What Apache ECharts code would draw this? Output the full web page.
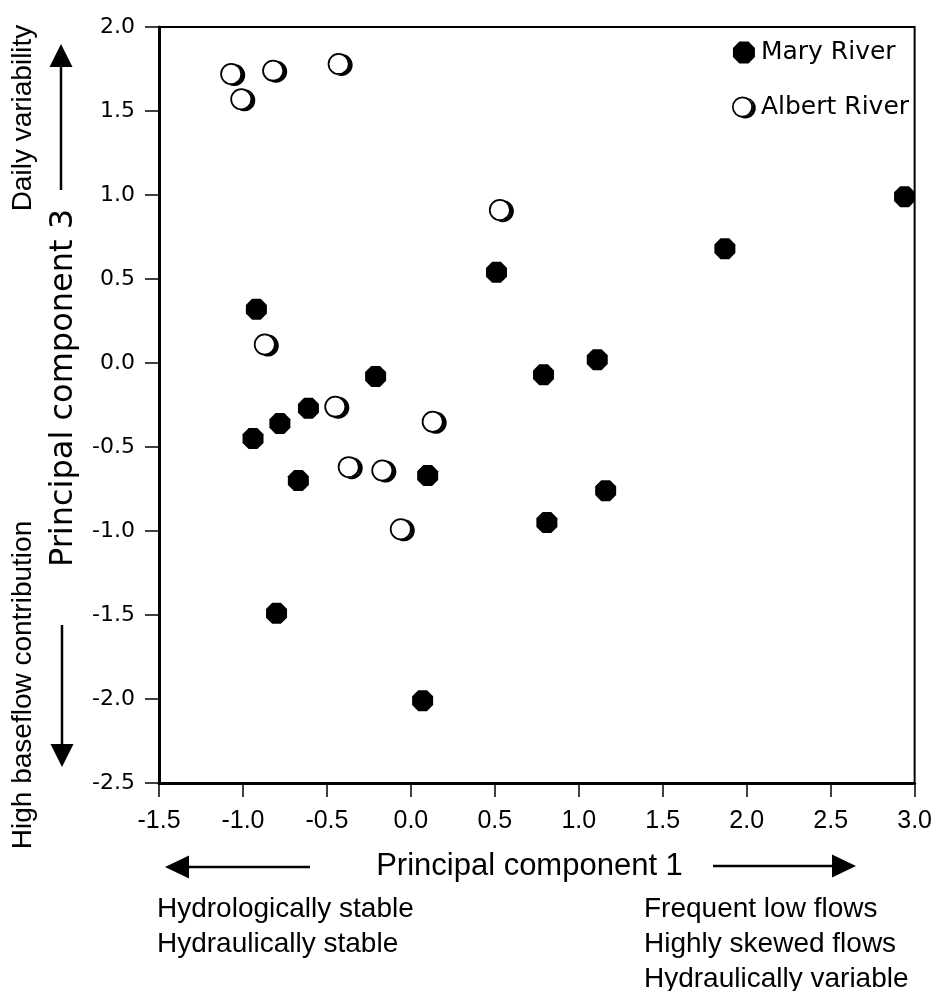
<!DOCTYPE html>
<html><head><meta charset="utf-8">
<script src="https://cdn.jsdelivr.net/npm/echarts@6/dist/echarts.min.js"></script>
<style>html,body{margin:0;padding:0;background:#fff}#c{width:935px;height:991px}</style>
</head><body><div id="c"></div><script>
// ---- data ----
const seriesNames = ['Mary River', 'Albert River'];
const maryX   = [2.94, 1.87, 0.51, 1.11, 0.79, -0.92, -0.21, -0.61, -0.78, -0.94, -0.67, 0.10, 1.16, 0.81, -0.80, 0.07];
const maryY   = [0.99, 0.68, 0.54, 0.02, -0.07, 0.32, -0.08, -0.27, -0.36, -0.45, -0.70, -0.67, -0.76, -0.95, -1.49, -2.01];
const albertX = [-1.07, -0.82, -0.43, -1.01, 0.53, -0.87, -0.45, 0.13, -0.37, -0.17, -0.06];
const albertY = [1.72, 1.74, 1.78, 1.57, 0.91, 0.11, -0.26, -0.35, -0.62, -0.64, -0.99];
const xRange = [-1.5, 3.0];
const yRange = [-2.5, 2.0];
const tickStep = 0.5;
const xTitle = 'Principal component 1';
const yTitle = 'Principal component 3';
const yTopNote = 'Daily variability';
const yBottomNote = 'High baseflow contribution';
const xLeftNotes = ['Hydrologically stable', 'Hydraulically stable'];
const xRightNotes = ['Frequent low flows', 'Highly skewed flows', 'Hydraulically variable'];

const zip = (a, b) => a.map((v, i) => [v, b[i]]);
const octagon = 'path://M-0.414,-1L0.414,-1L1,-0.414L1,0.414L0.414,1L-0.414,1L-1,0.414L-1,-0.414Z';
// open ring with a dark crescent "shadow" at lower right
const ringShadow = 'path://M1,0A1,1,0,1,1,-1,0A1,1,0,1,1,1,0Z' +
  'M0.84,0A0.84,0.84,0,1,0,-0.84,0A0.84,0.84,0,1,0,0.84,0Z' +
  'M0.4727,-0.8813A1,1,0,1,1,-0.1927,0.9813A1,1,0,0,0,0.4727,-0.8813Z';
const SANS = 'Liberation Sans, Arial, sans-serif';
const WIDE = 'DejaVu Sans, sans-serif';

function txt(text, x, y, opts) {
  opts = opts || {};
  return {
    type: 'text', x: x, y: y, rotation: opts.rot || 0, silent: true,
    style: {
      text: text, x: 0, y: 0,
      align: opts.align || 'center', textAlign: opts.align || 'center',
      verticalAlign: 'middle', textVerticalAlign: 'middle',
      font: (opts.size || 28) + 'px ' + (opts.family || SANS),
      fill: '#000'
    }
  };
}
function line(x1, y1, x2, y2) {
  return { type: 'line', silent: true, shape: { x1, y1, x2, y2 }, style: { stroke: '#000', lineWidth: 2.5 } };
}
function head(pts) {
  return { type: 'polygon', silent: true, shape: { points: pts }, style: { fill: '#000' } };
}

const chart = echarts.init(document.getElementById('c'), null, { renderer: 'canvas' });
const fmt = v => Number(v).toFixed(1);

const graphics = [
  txt(yTitle, 64, 388, { rot: Math.PI / 2, size: 32, family: WIDE }),
  txt(xTitle, 529.5, 866, { size: 31 }),
  txt(yTopNote, 23, 118, { rot: Math.PI / 2, size: 28 }),
  txt(yBottomNote, 23, 685, { rot: Math.PI / 2, size: 28 }),
  // arrows
  line(61, 190, 61, 66), head([[61, 44], [49.5, 67], [72.5, 67]]),
  line(62, 625, 62, 745), head([[62, 767], [50.5, 744], [73.5, 744]]),
  line(189, 867, 310, 867), head([[165, 867], [189, 855.5], [189, 878.5]]),
  line(713, 866, 833, 866), head([[856, 866], [832, 854.5], [832, 877.5]])
];
xLeftNotes.forEach((t, i) => graphics.push(txt(t, 157, 909 + i * 35, { align: 'left', size: 28 })));
xRightNotes.forEach((t, i) => graphics.push(txt(t, 644, 909 + i * 35, { align: 'left', size: 28 })));

chart.setOption({
  animation: false,
  backgroundColor: '#fff',
  grid: { left: 159, right: 18, top: 27, bottom: 208, show: true, borderColor: '#000', borderWidth: 2, backgroundColor: 'transparent' },
  legend: {
    orient: 'vertical', left: 727, top: 35, itemWidth: 24, itemHeight: 22, itemGap: 30,
    textStyle: { fontFamily: WIDE, fontSize: 25, color: '#000' },
    data: seriesNames
  },
  xAxis: {
    type: 'value', min: xRange[0], max: xRange[1], interval: tickStep,
    splitLine: { show: false },
    axisLine: { onZero: false, lineStyle: { color: '#000', width: 3 } },
    axisTick: { show: true, inside: false, length: 14, lineStyle: { color: '#000', width: 1.5 } },
    axisLabel: { formatter: fmt, margin: 26, fontFamily: SANS, fontSize: 25, color: '#000', showMinLabel: true, showMaxLabel: true }
  },
  yAxis: {
    type: 'value', min: yRange[0], max: yRange[1], interval: tickStep,
    splitLine: { show: false },
    axisLine: { onZero: false, lineStyle: { color: '#000', width: 3 } },
    axisTick: { show: true, inside: false, length: 14, lineStyle: { color: '#000', width: 1.5 } },
    axisLabel: { formatter: fmt, margin: 24, fontFamily: WIDE, fontSize: 22, color: '#000', showMinLabel: true, showMaxLabel: true }
  },
  series: [
    {
      name: seriesNames[0], type: 'scatter', symbol: octagon, symbolSize: 21,
      itemStyle: { color: '#000', opacity: 1 },
      data: zip(maryX, maryY), z: 3
    },
    {
      name: seriesNames[1], type: 'scatter', symbol: ringShadow, symbolSize: [25, 23],
      symbolOffset: [1.5, 0.5],
      itemStyle: { color: '#000', opacity: 1 },
      data: zip(albertX, albertY), z: 4
    }
  ],
  graphic: graphics
});
</script></body></html>
